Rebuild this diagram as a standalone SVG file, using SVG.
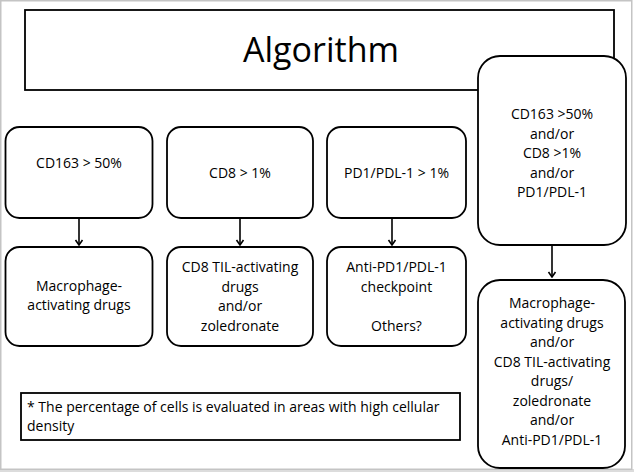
<svg xmlns="http://www.w3.org/2000/svg" width="634" height="472" viewBox="0 0 634 472">
  <defs>
    <style>
      .box { fill: #ffffff; stroke: #000000; stroke-width: 1.8; }
      .t { font-family: "Open Sans", "Liberation Sans", sans-serif; font-size: 14px; fill: #000000; text-anchor: middle; }
      .note { font-family: "Open Sans", "Liberation Sans", sans-serif; font-size: 14px; fill: #000000; }
      .title { font-family: "Open Sans", "Liberation Sans", sans-serif; font-size: 34px; fill: #000000; text-anchor: middle; }
      .conn { stroke: #000000; stroke-width: 1.6; fill: none; }
    </style>
    <marker id="ah" viewBox="-1 -5 7 10" refX="5" refY="0" markerWidth="7" markerHeight="10" markerUnits="userSpaceOnUse" orient="auto">
      <path d="M0,-3.5 L5,0 L0,3.5" fill="none" stroke="#000000" stroke-width="1.6"/>
    </marker>
  </defs>

  <!-- frame -->
  <rect x="0" y="0" width="634" height="472" fill="#ffffff"/>
  <rect x="0" y="469" width="634" height="3" fill="#dcdcdc"/>
  <rect x="0.75" y="0.75" width="631" height="468.5" fill="none" stroke="#c4c4c4" stroke-width="1.5"/>

  <g id="title">
    <rect class="box" x="25" y="10" width="589" height="80" stroke-width="2"/>
    <text class="title" x="321" y="62">Algorithm</text>
  </g>

  <g id="cd163">
    <rect class="box" x="5.5" y="127" width="147" height="91" rx="14"/>
    <text class="t" x="79" y="168">CD163 &gt; 50%</text>
  </g>
  <g id="cd8">
    <rect class="box" x="167" y="127" width="146" height="91" rx="14"/>
    <text class="t" x="240" y="178">CD8 &gt; 1%</text>
  </g>
  <g id="pd1">
    <rect class="box" x="327" y="127" width="139" height="91" rx="14"/>
    <text class="t" x="396.5" y="178">PD1/PDL-1 &gt; 1%</text>
  </g>

  <g id="macro">
    <rect class="box" x="5.5" y="247" width="147" height="99" rx="14"/>
    <text class="t" x="79" y="291">Macrophage-</text>
    <text class="t" x="79" y="310">activating drugs</text>
  </g>
  <g id="til">
    <rect class="box" x="167" y="247" width="146" height="99" rx="14"/>
    <text class="t" x="240" y="272">CD8 TIL-activating</text>
    <text class="t" x="240" y="292">drugs</text>
    <text class="t" x="240" y="311">and/or</text>
    <text class="t" x="240" y="331">zoledronate</text>
  </g>
  <g id="anti">
    <rect class="box" x="327" y="247" width="139" height="99" rx="14"/>
    <text class="t" x="396.5" y="272">Anti-PD1/PDL-1</text>
    <text class="t" x="396.5" y="292">checkpoint</text>
    <text class="t" x="396.5" y="331">Others?</text>
  </g>

  <g id="combo">
    <rect class="box" x="478" y="56" width="148" height="189" rx="22"/>
    <text class="t" x="552" y="119">CD163 &gt;50%</text>
    <text class="t" x="552" y="138.5">and/or</text>
    <text class="t" x="552" y="158">CD8 &gt;1%</text>
    <text class="t" x="552" y="177.5">and/or</text>
    <text class="t" x="552" y="197">PD1/PDL-1</text>
  </g>
  <g id="combo-tx">
    <rect class="box" x="478" y="280" width="147" height="188" rx="22"/>
    <text class="t" x="552" y="308">Macrophage-</text>
    <text class="t" x="552" y="327.5">activating drugs</text>
    <text class="t" x="552" y="347">and/or</text>
    <text class="t" x="552" y="366.5">CD8 TIL-activating</text>
    <text class="t" x="552" y="386">drugs/</text>
    <text class="t" x="552" y="405.5">zoledronate</text>
    <text class="t" x="552" y="425">and/or</text>
    <text class="t" x="552" y="444.5">Anti-PD1/PDL-1</text>
  </g>

  <g id="footnote">
    <rect class="box" x="21" y="393" width="439" height="47"/>
    <text class="note" x="27" y="412">* The percentage of cells is evaluated in areas with high cellular</text>
    <text class="note" x="27" y="431">density</text>
  </g>

  <g id="connectors">
    <line class="conn" x1="79" y1="218" x2="79" y2="245" marker-end="url(#ah)"/>
    <line class="conn" x1="240" y1="218" x2="240" y2="245" marker-end="url(#ah)"/>
    <line class="conn" x1="392" y1="218" x2="392" y2="245" marker-end="url(#ah)"/>
    <line class="conn" x1="552" y1="245" x2="552" y2="277" marker-end="url(#ah)"/>
  </g>
</svg>
